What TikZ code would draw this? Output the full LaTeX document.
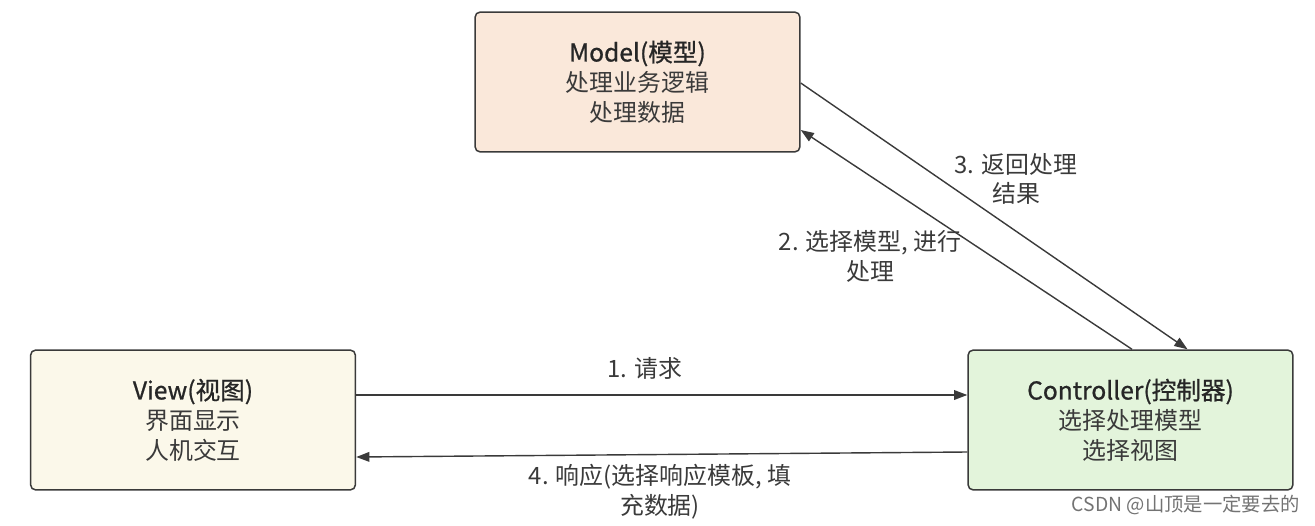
\documentclass[tikz,border=0pt]{standalone}
\usepackage{fontspec}
\setmainfont{Noto Sans CJK SC}
\newfontfamily\titlefont[FakeBold=0.8]{Noto Sans CJK SC}
\usetikzlibrary{arrows.meta,calc}
\definecolor{txt}{HTML}{3A3A3A}
\definecolor{edge}{HTML}{3A3A3A}
\definecolor{modelfill}{HTML}{FAE8DA}
\definecolor{viewfill}{HTML}{FBF8EA}
\definecolor{ctrlfill}{HTML}{E3F4DB}
\tikzset{
  box/.style={draw=edge, line width=0.85pt, rounded corners=3pt,
    minimum width=6.5cm, minimum height=2.8cm, align=center,
    text=txt, font=\fontsize{13.6pt}{17pt}\selectfont, inner sep=0pt},
  conn/.style={draw=edge, line width=0.8pt, -{Triangle[length=7.5pt,width=5.5pt]}},
  lbl/.style={text=txt, align=center, font=\fontsize{13.6pt}{17pt}\selectfont, inner sep=0pt},
}
\newcommand{\boxtitle}[1]{{\titlefont\fontsize{14pt}{17pt}\selectfont\color{black!85}#1}}
\begin{document}
\begin{tikzpicture}[x=0.02cm,y=0.02cm]
\useasboundingbox (0,0) rectangle (1315,525);
\node[box, fill=modelfill] (model) at (637.5,443) {\boxtitle{Model(模型)}\\处理业务逻辑\\处理数据};
\node[box, fill=viewfill] (view) at (193,105) {\boxtitle{View(视图)}\\界面显示\\人机交互};
\node[box, fill=ctrlfill] (ctrl) at (1130.5,105) {\boxtitle{Controller(控制器)}\\选择处理模型\\选择视图};

\draw[conn] ($(view.east)+(0,25)$) -- ($(ctrl.west)+(0,25)$);
\draw[conn] ($(ctrl.west)+(0,-32)$) -- ($(view.east)+(0,-37)$);
\draw[conn] ($(ctrl.north)+(1.5,0)$) -- ($(model.east)+(0,-48)$);
\draw[conn] ($(model.east)+(0,-1)$) -- ($(ctrl.north)+(57,0)$);

\node[lbl] (l1) at (645,157) {1. 请求};
\node[lbl] (l4) at (660,33) {4. 响应(选择响应模板, 填\\充数据)};
\node[lbl] (l2) at (870,269) {2. 选择模型, 进行\\处理};
\node[lbl] (l3) at (1016,346) {3. 返回处理\\结果};

\node[anchor=east, text=black!55, font=\fontsize{11pt}{13pt}\selectfont, inner sep=0pt] (wm) at (1300,20) {CSDN @山顶是一定要去的};
\end{tikzpicture}
\end{document}
